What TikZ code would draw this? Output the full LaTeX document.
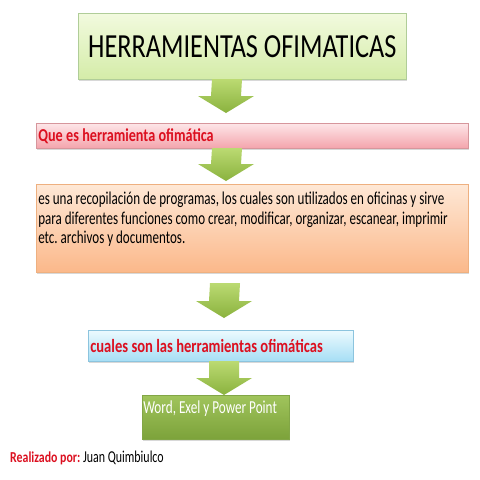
\documentclass[tikz,border=0pt]{standalone}
\usepackage{fontspec}
\setmainfont{Carlito}[FakeStretch=0.78]
\newfontfamily\bodyfont{Carlito}[FakeStretch=0.72]
\usetikzlibrary{calc,shadows}
\definecolor{txtred}{HTML}{DC1020}
\frenchspacing
%% green block arrow from top point to tip
\newcommand{\garrow}[2]{%
  \path[arrowfill] ($(#1)+(-15,0)$) -- ($(#1)+(15,0)$) -- ($(#2)+(15,-17)$)
    -- ($(#2)+(28,-17)$) -- (#2) -- ($(#2)+(-28,-17)$) -- ($(#2)+(-15,-17)$) -- cycle;}
\begin{document}
\begin{tikzpicture}[x=1pt,y=-1pt,
    box/.style={draw,line width=0.6pt,anchor=north west,inner sep=0pt,
      drop shadow={shadow xshift=1pt,shadow yshift=-1.5pt,opacity=0.3}},
    arrowfill/.style={top color=arrowtop,bottom color=arrowbot}]
    \definecolor{arrowtop}{HTML}{BBDA72}
    \definecolor{arrowbot}{HTML}{8AB23E}
    %% page
    \fill[white] (0,0) rectangle (480,480);
    %% title
    \node[box,draw=green!40!lime!35!gray!60,top color={rgb,255:red,242;green,250;blue,222},
      bottom color={rgb,255:red,212;green,236;blue,168},
      minimum width=328pt,minimum height=66pt]
      (title) at (78,13) {\fontsize{33.7}{40}\selectfont HERRAMIENTAS OFIMATICAS};
    %% what is it
    \node[box,draw={rgb,255:red,214;green,150;blue,156},top color={rgb,255:red,253;green,230;blue,232},
      bottom color={rgb,255:red,244;green,164;blue,172},
      minimum width=432pt,minimum height=25pt,text width=428pt,inner xsep=2pt,align=left]
      (que) at (36,123) {\fontsize{18.2}{21}\selectfont\bfseries\color{txtred}Que es herramienta ofimática};
    %% definition
    \node[box,draw={rgb,255:red,238;green,176;blue,128},top color={rgb,255:red,254;green,232;blue,214},
      bottom color={rgb,255:red,251;green,184;blue,138}]
      (def) at (36,184) {\parbox[c][88pt][t]{432pt}{\hspace*{2pt}\parbox[t]{428pt}{\raggedright
      \bodyfont\fontsize{18.1}{19.5}\selectfont\vspace*{8pt}
      es una recopilación de programas, los cuales son utilizados en oficinas y sirve\\
      para diferentes funciones como crear, modificar, organizar, escanear, imprimir\\
      etc. archivos y documentos.}}};
    %% which are they
    \node[box,draw={rgb,255:red,140;green,196;blue,222},top color={rgb,255:red,236;green,250;blue,254},
      bottom color={rgb,255:red,166;green,222;blue,245},
      minimum width=265pt,minimum height=31pt,text width=261pt,inner xsep=2pt,align=left]
      (cuales) at (88,330) {\fontsize{18.7}{21}\selectfont\bfseries\color{txtred}cuales son las herramientas ofimáticas};
    %% answer
    \node[box,draw={rgb,255:red,130;green,166;blue,70},top color={rgb,255:red,160;green,196;blue,92},
      bottom color={rgb,255:red,124;green,162;blue,58}]
      (word) at (142,395) {\parbox[c][44pt][t]{147pt}{\hspace*{1pt}\parbox[t]{145pt}{\raggedright
      \bodyfont\fontsize{18.3}{19.5}\selectfont\color{white}\vspace*{5pt}Word, Exel y Power Point}}};
    %% author
    \node[anchor=west,inner sep=0pt] (autor) at (10,458)
      {\fontsize{15.2}{18}\selectfont{\bfseries\color{txtred}Realizado por:} {\bodyfont\fontsize{16.6}{18}\selectfont Juan Quimbiulco}};
    %% arrows
    \coordinate (a1) at (227,79);  \coordinate (t1) at (226,113);
    \coordinate (a2) at (227,148); \coordinate (t2) at (226,181);
    \coordinate (a3) at (225,283); \coordinate (t3) at (224,318);
    \coordinate (a4) at (224,361); \coordinate (t4) at (224,395);
    \garrow{a1}{t1}
    \garrow{a2}{t2}
    \garrow{a3}{t3}
    \garrow{a4}{t4}
\end{tikzpicture}
\end{document}
